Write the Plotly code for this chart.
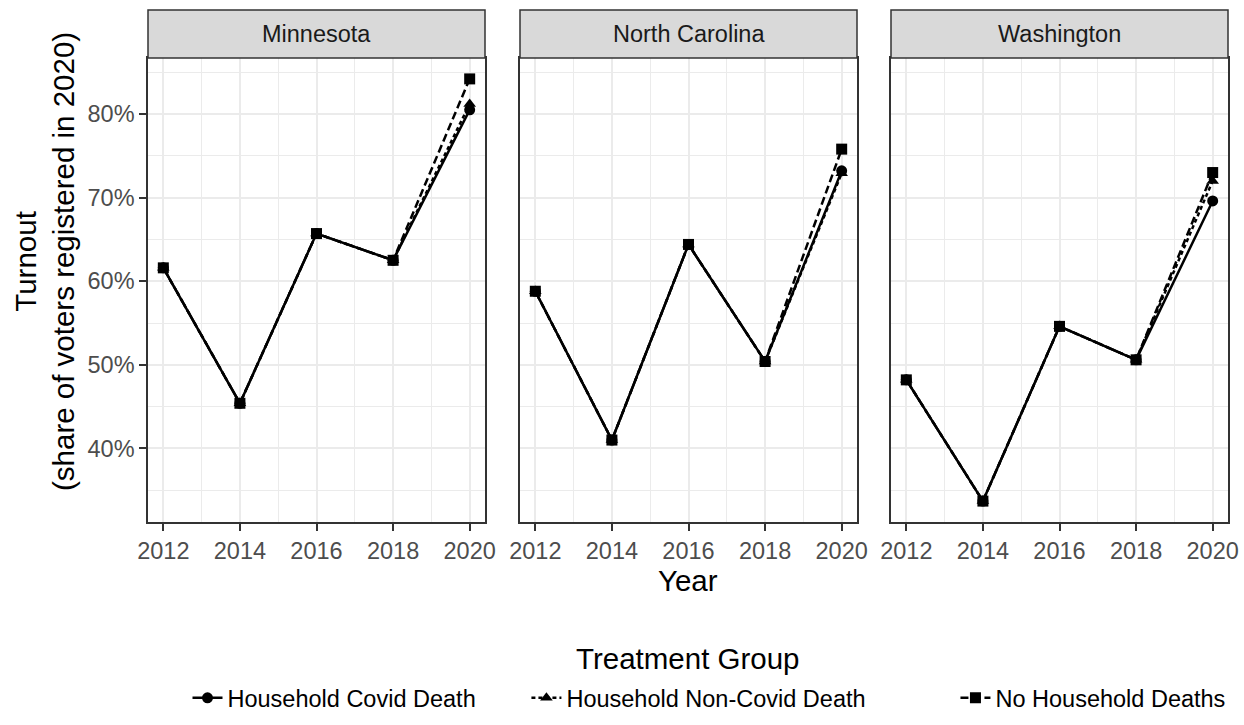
import plotly.graph_objects as go

states = ["Minnesota", "North Carolina", "Washington"]
years = [2012, 2014, 2016, 2018, 2020]
groups = ["Household Covid Death", "Household Non-Covid Death", "No Household Deaths"]

# pre-period values are shared across groups; 2020 differs
pre = {
    "Minnesota": [61.6, 45.4, 65.7, 62.5],
    "North Carolina": [58.8, 41.0, 64.4, 50.4],
    "Washington": [48.2, 33.7, 54.6, 50.6],
}
y2020 = {
    "Minnesota": [80.5, 81.2, 84.2],
    "North Carolina": [73.2, 72.9, 75.8],
    "Washington": [69.6, 72.0, 73.0],
}

symbols = ["circle", "triangle-up", "square"]
dashes = ["solid", "4px,3px", "8px,4px"]
legend_pad = [7, 13, 0]

W, H = 1244, 725


def px(x):
    return x / W


def py(y):
    return 1 - y / H


panel_x = [(148, 485), (520, 857), (891, 1228)]
ptop, pbot = 58, 522
strip_top = 10
TICK = 23.5
TITLE = 29.5
NB = "\u00a0"

fig = go.Figure()
for i, st in enumerate(states):
    ax = "" if i == 0 else str(i + 1)
    for g in range(3):
        yv = [v / 100 for v in pre[st]] + [y2020[st][g] / 100]
        label = groups[g] + NB * legend_pad[g]
        fig.add_trace(go.Scatter(
            x=years, y=yv, mode="lines+markers",
            name=label, legendgroup=groups[g], showlegend=(i == 0),
            line=dict(color="black", width=2.5, dash=dashes[g]),
            marker=dict(symbol=symbols[g], size=11, color="black"),
            xaxis="x" + ax, yaxis="y" + ax,
        ))

layout = dict(
    width=W, height=H, autosize=False, plot_bgcolor="white", paper_bgcolor="white",
    margin=dict(l=0, r=0, t=0, b=0, autoexpand=False),
    font=dict(family="Liberation Sans, Arial", color="black"),
    showlegend=True,
    legend=dict(orientation="h", x=px(709), xanchor="center", y=py(698), yanchor="middle",
                font=dict(size=TICK, color="black"), traceorder="normal",
                itemwidth=30, title=dict(text="")),
)
for i in range(3):
    ax = "" if i == 0 else str(i + 1)
    x0, x1 = panel_x[i]
    layout["xaxis" + ax] = dict(
        domain=[px(x0), px(x1)], range=[2011.6, 2020.4],
        tickvals=years, ticktext=[str(y) for y in years],
        showgrid=True, gridcolor="#EBEBEB", gridwidth=1.5,
        minor=dict(tickvals=[2013, 2015, 2017, 2019], showgrid=True, gridcolor="#EBEBEB", gridwidth=0.8),
        ticks="outside", ticklen=7, tickcolor="#333333", tickwidth=1.5,
        tickfont=dict(size=TICK, color="#4D4D4D"),
        showline=True, linecolor="#333333", linewidth=1.5, mirror=True,
        zeroline=False, anchor="y" + ax,
    )
    layout["yaxis" + ax] = dict(
        domain=[py(pbot), py(ptop)], range=[0.312, 0.867],
        tickvals=[0.4, 0.5, 0.6, 0.7, 0.8], tickformat=".0%",
        showticklabels=(i == 0),
        showgrid=True, gridcolor="#EBEBEB", gridwidth=1.5,
        minor=dict(tickvals=[0.35, 0.45, 0.55, 0.65, 0.75, 0.85], showgrid=True, gridcolor="#EBEBEB", gridwidth=0.8),
        ticks="outside" if i == 0 else "", ticklen=7, tickcolor="#333333", tickwidth=1.5,
        tickfont=dict(size=TICK, color="#4D4D4D"),
        showline=True, linecolor="#333333", linewidth=1.5, mirror=True,
        zeroline=False, anchor="x" + ax,
    )
fig.update_layout(**layout)

shapes = []
annotations = []
for i, st in enumerate(states):
    x0, x1 = panel_x[i]
    shapes.append(dict(type="rect", xref="paper", yref="paper",
                       x0=px(x0), x1=px(x1), y0=py(ptop), y1=py(strip_top),
                       fillcolor="#D9D9D9", line=dict(color="#333333", width=1.5)))
    annotations.append(dict(text=st, xref="paper", yref="paper",
                            x=px((x0 + x1) / 2), y=py((ptop + strip_top) / 2),
                            showarrow=False, font=dict(size=TICK, color="#1A1A1A"),
                            xanchor="center", yanchor="middle"))

annotations.append(dict(text="Year", xref="paper", yref="paper", x=px(688), y=py(580),
                        showarrow=False, font=dict(size=TITLE, color="black"),
                        xanchor="center", yanchor="middle"))
annotations.append(dict(text="Turnout<br>(share of voters registered in 2020)", xref="paper", yref="paper",
                        x=px(45), y=py(262), textangle=-90,
                        showarrow=False, font=dict(size=TITLE, color="black"),
                        xanchor="center", yanchor="middle"))
annotations.append(dict(text="Treatment Group", xref="paper", yref="paper", x=px(688), y=py(658),
                        showarrow=False, font=dict(size=TITLE, color="black"),
                        xanchor="center", yanchor="middle"))
fig.update_layout(shapes=shapes, annotations=annotations)

fig.write_html("out.html", config={"responsive": False, "displayModeBar": False},
               post_script="document.body.style.margin='0';document.documentElement.style.overflow='hidden';")
